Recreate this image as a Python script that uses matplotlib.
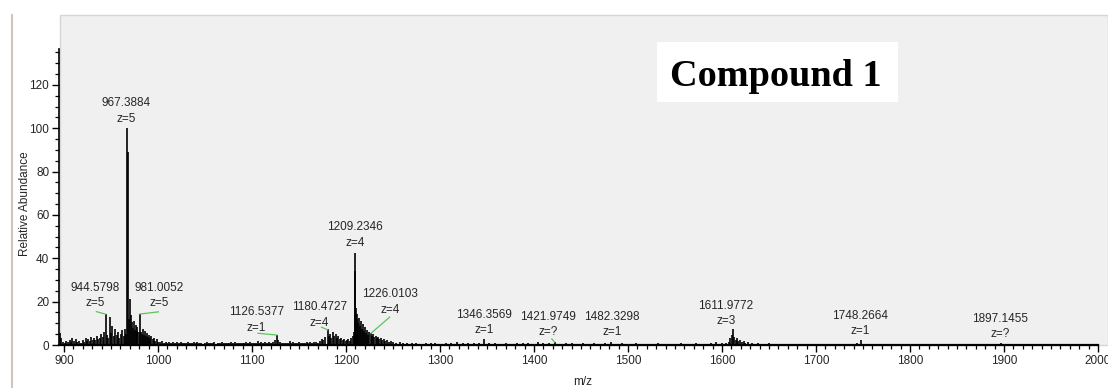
import matplotlib
matplotlib.use("Agg")
import matplotlib.pyplot as plt
from matplotlib.patches import Rectangle
from matplotlib.lines import Line2D
from matplotlib.ticker import MultipleLocator
import numpy as np

# peaks, m/z and relative abundance
mz_low = [895.5, 897, 899, 901, 902.5, 904, 906, 907.5, 909, 911, 912.5, 914, 916, 918, 920,
          921.5, 923, 924.5, 926, 927.5, 929, 930.5, 932, 933.5, 935, 936.5, 938, 939.5, 941,
          942.5, 944.4, 945.5, 947, 948.6, 950, 951.5, 953, 954.5, 956, 957.5, 959, 960.5, 962,
          963.5, 965, 966.3, 967.4, 968.1, 969.0, 970.2, 971.2, 972.2, 973.2, 974.2, 975.2,
          976.2, 977.2, 978.2, 979.3, 981.0, 982.2, 983.2, 984.2, 985.2, 986.3, 987.3, 988.4,
          989.5, 990.6, 991.8, 993, 994.2, 995.5, 997, 998.5, 1000]
ab_low = [5.5, 3, 1.5, 1, 2, 1.2, 2.5, 1.5, 3, 1.8, 2.6, 1.2, 1.8, 1.0, 2.2,
          1.6, 3.2, 2.0, 2.8, 1.7, 3.6, 2.4, 3.0, 2.2, 4.2, 2.8, 3.4, 5.2, 3.8,
          6.0, 14.2, 4.5, 3.2, 13.0, 5.5, 8.6, 4.0, 7.2, 4.6, 6.2, 3.4, 5.2, 6.8,
          4.2, 7.4, 5.0, 100, 89, 12, 21, 14, 10.5, 8, 11, 7,
          9, 6.5, 8.2, 5.8, 14.3, 6.2, 5, 7.2, 4.6, 6.4, 4, 5.6,
          3.6, 4.8, 3, 4.2, 2.6, 3.2, 2, 2.6, 1.6]

mz_mid = [1002, 1004, 1006, 1008, 1010, 1012, 1014, 1016, 1018, 1020, 1022, 1024, 1026, 1028,
          1030, 1032, 1034, 1036, 1038, 1040, 1042, 1044, 1046, 1048, 1050, 1052, 1054, 1056,
          1058, 1060, 1062, 1064, 1066, 1068, 1070, 1072, 1074, 1076, 1078, 1080, 1082, 1084,
          1086, 1088, 1090, 1092, 1094, 1096, 1098, 1100, 1102, 1104, 1106, 1108, 1110, 1112,
          1114, 1116, 1118, 1120, 1122, 1124, 1126.5, 1128, 1130, 1132, 1134, 1136, 1138, 1140,
          1142, 1144, 1146, 1148, 1150, 1152, 1154, 1156, 1158, 1160, 1162, 1164, 1166, 1168,
          1170, 1172, 1174, 1176, 1178, 1180.5, 1181.5, 1183, 1184.5, 1186, 1187.5, 1189,
          1190.5, 1192, 1193.5, 1195, 1196.5, 1198, 1199.5, 1201, 1202.5, 1204, 1205.5, 1207,
          1208.4, 1209.2, 1209.7, 1210.5, 1211.4, 1212.2, 1213.2, 1214.2, 1215.2, 1216.2,
          1217.2, 1218.2, 1219.3, 1220.4, 1221.5, 1222.6, 1223.8, 1225, 1226.2, 1227.4,
          1228.6, 1230, 1231.4, 1232.8, 1234.2, 1235.6, 1237, 1238.5, 1240, 1242, 1244, 1246,
          1248, 1250]
ab_mid = [1.2, 1.8, 0.9, 1.5, 1.1, 1.6, 0.8, 1.3, 0.9, 1.4, 0.8, 1.2, 0.7, 1.1,
          0.9, 1.3, 0.7, 1.0, 1.6, 0.8, 1.2, 0.7, 1.0, 0.6, 0.9, 1.4, 0.7, 1.1,
          0.8, 1.2, 0.6, 1.0, 0.8, 1.3, 0.7, 1.1, 0.8, 1.0, 1.6, 0.9, 1.2, 0.8,
          1.1, 0.7, 1.0, 0.8, 1.3, 0.9, 1.2, 0.8, 1.1, 0.9, 1.7, 1.0, 1.4, 0.9,
          1.2, 1.0, 1.6, 1.1, 1.5, 2.2, 4.8, 2.4, 1.2, 0.9, 1.1, 0.8, 1.0, 1.8,
          0.9, 1.2, 0.8, 1.0, 1.4, 0.9, 1.1, 0.8, 1.3, 1.0, 1.5, 0.9, 1.2, 1.6,
          1.1, 2.0, 2.8, 2.2, 3.6, 7.2, 4.2, 5.0, 3.4, 6.2, 4.0, 5.2,
          3.2, 4.2, 2.6, 3.0, 2.2, 2.6, 1.8, 2.2, 2.8, 2.0, 3.2, 4.2,
          6.0, 42.5, 34, 17, 12, 14.5, 10, 12.5, 8.6, 11,
          7.5, 9.6, 6.5, 8.2, 5.6, 6.8, 4.8, 5.8, 5.6, 4.2,
          5.0, 3.6, 4.2, 3.0, 3.6, 2.6, 3.0, 2.2, 2.6, 1.8, 2.2, 1.4,
          1.8, 1.2]

mz_high = [1253, 1257, 1261, 1265, 1270, 1275, 1280, 1285, 1290, 1295, 1300, 1306, 1312, 1318,
           1324, 1330, 1336, 1341, 1346.4, 1352, 1358, 1364, 1370, 1376, 1382, 1388, 1394,
           1400, 1404, 1410, 1416, 1422, 1428, 1434, 1440, 1446, 1452, 1458, 1464, 1470, 1476,
           1482.3, 1488, 1494, 1500, 1508, 1516, 1524, 1532, 1540, 1548, 1556, 1564, 1572,
           1580, 1588, 1594, 1600, 1604, 1607, 1609, 1610.5, 1612, 1613.2, 1614.5, 1616,
           1617.5, 1619, 1621, 1623, 1625, 1628, 1632, 1638, 1644, 1650, 1658, 1666, 1674,
           1682, 1690, 1698, 1706, 1714, 1722, 1730, 1738, 1744, 1748.3, 1752, 1760, 1770,
           1780, 1790, 1800, 1812, 1824, 1836, 1848, 1860, 1872, 1884, 1897.1, 1910, 1925,
           1940, 1955, 1970, 1985]
ab_high = [0.9, 1.2, 0.7, 1.0, 0.8, 1.1, 0.6, 0.9, 0.7, 1.0, 0.6, 0.9, 0.7, 1.4,
           0.8, 0.7, 0.9, 0.8, 2.6, 0.7, 0.8, 0.6, 0.9, 0.6, 0.8, 0.7, 0.9,
           0.6, 1.4, 0.8, 0.7, 1.2, 0.6, 0.7, 0.8, 0.6, 0.7, 0.6, 0.8, 0.6, 0.7,
           1.6, 0.6, 0.7, 0.5, 0.7, 0.6, 0.5, 0.7, 0.6, 0.5, 0.7, 0.6, 0.8,
           0.6, 0.9, 1.2, 0.8, 1.0, 1.6, 3.2, 4.4, 7.4, 3.8, 2.4, 3.0,
           1.8, 2.2, 1.4, 1.8, 1.1, 1.3, 0.7, 1.0, 0.6, 0.7, 0.5, 0.6, 0.5,
           0.6, 0.5, 0.6, 0.5, 0.6, 0.5, 0.6, 0.5, 0.7, 2.2, 0.6, 0.5, 0.6,
           0.5, 0.6, 0.5, 0.5, 0.6, 0.5, 0.5, 0.6, 0.5, 0.5, 0.9, 0.5, 0.5,
           0.5, 0.5, 0.5, 0.5]

# annotated peaks
label_mz = ["944.5798", "967.3884", "981.0052", "1126.5377", "1180.4727", "1209.2346",
            "1226.0103", "1346.3569", "1421.9749", "1482.3298", "1611.9772", "1748.2664",
            "1897.1455"]
label_z = ["5", "5", "5", "1", "4", "4", "4", "1", "?", "1", "3", "1", "?"]

# where each label sits (centre m/z, bottom abundance) - layout only
label_pos = [(933.5, 16.5), (966.0, 101.5), (1001.0, 16.5), (1105.0, 5.2), (1172.0, 7.6),
             (1209.6, 44.5), (1246.8, 13.6), (1346.8, 4.0), (1415.0, 3.0), (1483.0, 3.0),
             (1604.0, 8.1), (1746.8, 3.5), (1895.7, 2.1)]
# green leader lines from label to peak
leaders = [((934.5, 15.4), (944.4, 14.2)), ((980.9, 14.3), (1000.5, 15.3)),
           ((1106.4, 5.4), (1126.5, 4.6)), ((1174.0, 8.2), (1180.6, 7.0)),
           ((1246.5, 12.9), (1226.6, 5.4)), ((1419.0, 2.8), (1422.0, 1.3))]

W, H = 1108, 388
fig = plt.figure(figsize=(W / 100, H / 100), dpi=100)
fig.patch.set_facecolor("white")

# grey panel behind the plot
panel = Rectangle((60 / W, 1 - 345 / H), (W - 60) / W, (345 - 15) / H, transform=fig.transFigure,
                  facecolor="#f0f0f0", edgecolor="#d6d6d6", lw=1, zorder=-2)
fig.add_artist(panel)
fig.add_artist(Line2D([12 / W, 12 / W], [0, 1 - 15 / H], transform=fig.transFigure,
                      color="#cdc7b8", lw=1.5, zorder=-2))

ax = fig.add_axes([59 / W, 1 - 345 / H, (1098 - 59) / W, (345 - 49) / H])
ax.set_facecolor("none")

mz = np.concatenate([mz_low, mz_mid, mz_high])
ab = np.concatenate([ab_low, ab_mid, ab_high])
ax.vlines(mz, 0, ab, color="black", lw=1.2)

ax.set_xlim(894.7, 2000)
ax.set_ylim(0, 136.6)
ax.spines["top"].set_visible(False)
ax.spines["right"].set_visible(False)
ax.spines["left"].set_linewidth(1.2)
ax.spines["bottom"].set_linewidth(1.6)

ax.xaxis.set_major_locator(MultipleLocator(100))
ax.xaxis.set_minor_locator(MultipleLocator(10))
ax.yaxis.set_major_locator(MultipleLocator(20))
ax.yaxis.set_minor_locator(MultipleLocator(5))
ax.tick_params(which="major", length=5, width=1, pad=2, labelsize=8.5, labelcolor="#262626")
ax.tick_params(which="minor", length=3, width=0.9)
for lab in ax.get_xticklabels() + ax.get_yticklabels():
    lab.set_fontfamily("Liberation Sans")

for name, z, (x, y) in zip(label_mz, label_z, label_pos):
    ax.text(x, y, name + "\nz=" + z, ha="center", va="bottom", fontsize=8.5,
            family="Liberation Sans", color="#262626", linespacing=1.4)

for (x0, y0), (x1, y1) in leaders:
    ax.plot([x0, x1], [y0, y1], color="#5cc35c", lw=0.9)

fig.text(25 / W, 1 - 204 / H, "Relative Abundance", rotation=90, ha="center", va="center",
         fontsize=8.5, family="Liberation Sans", color="#262626")
fig.text(583 / W, 1 - 382 / H, "m/z", ha="center", va="center",
         fontsize=8.5, family="Liberation Sans", color="#262626")

# title box
fig.add_artist(Rectangle((657 / W, 1 - 102 / H), 241 / W, 60 / H, transform=fig.transFigure,
                         facecolor="white", edgecolor="none", zorder=3))
fig.text(776 / W, 1 - 86 / H, "Compound 1", ha="center", va="baseline", fontsize=27.5,
         fontweight="bold", family="Liberation Serif", zorder=4)

fig.savefig("out.png", dpi=100)
